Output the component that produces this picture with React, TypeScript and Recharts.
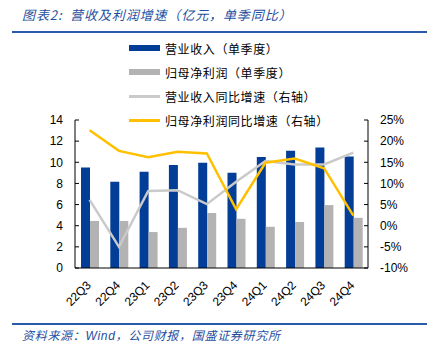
import React from 'react';
import { ComposedChart, Bar, Line, XAxis, YAxis } from 'recharts';

const categories = ['22Q3', '22Q4', '23Q1', '23Q2', '23Q3', '23Q4', '24Q1', '24Q2', '24Q3', '24Q4'];
const revenue = [9.5, 8.15, 9.1, 9.75, 9.95, 9.0, 10.5, 11.1, 11.4, 10.55];
const netProfit = [4.45, 4.45, 3.4, 3.8, 5.2, 4.65, 3.9, 4.35, 5.95, 4.75];
const revenueYoY = [6.1, -5.0, 8.2, 8.4, 5.1, 10.4, 15.3, 14.5, 14.5, 17.3];
const profitYoY = [22.6, 17.7, 16.2, 17.5, 17.1, 3.9, 14.9, 15.9, 13.6, 2.4];
const leftTicks = [0, 2, 4, 6, 8, 10, 12, 14];
const rightTicks = [-10, -5, 0, 5, 10, 15, 20, 25];

const seriesNames = ['营业收入（单季度）', '归母净利润（单季度）', '营业收入同比增速（右轴）', '归母净利润同比增速（右轴）'];
const colors = ['#023E97', '#B3B3B3', '#CACACA', '#FFC000'];

const data = categories.map((c, i) => ({
  name: c,
  revenue: revenue[i],
  netProfit: netProfit[i],
  revenueYoY: revenueYoY[i],
  profitYoY: profitYoY[i],
}));

const FONT = '"Liberation Sans", Arial, sans-serif';
const CJK = '"Noto Sans CJK SC", sans-serif';
const BLUE_TEXT = '#1F4FA0';

const XTick = (props: any) => {
  const { x, y, payload } = props;
  const ax = x + 2;
  const ay = y + 10;
  return (
    <text
      x={ax}
      y={ay}
      transform={`rotate(-45, ${ax}, ${ay})`}
      textAnchor="end"
      fontSize={12}
      fontFamily={FONT}
      fill="#000"
    >
      {payload.value}
    </text>
  );
};

const LegendBox = () => (
  <div style={{ position: 'absolute', left: 129, top: 36, fontFamily: CJK, fontSize: 12, color: '#000' }}>
    {seriesNames.map((n, i) => (
      <div key={n} style={{ display: 'flex', alignItems: 'center', height: 24, whiteSpace: 'nowrap' }}>
        <div
          style={{
            width: 31,
            height: i < 2 ? 6 : 3,
            background: colors[i],
            marginRight: 5,
          }}
        />
        <span style={{ letterSpacing: 0.6 }}>{n}</span>
      </div>
    ))}
  </div>
);

export default function App() {
  return (
    <div style={{ position: 'absolute', left: 0, top: 0, width: 434, height: 352, background: '#fff' }}>
      <div
        style={{
          position: 'absolute',
          left: 22,
          top: 5,
          fontFamily: CJK,
          fontStyle: 'italic',
          fontSize: 13,
          letterSpacing: 0.9,
          color: BLUE_TEXT,
          whiteSpace: 'nowrap',
        }}
      >
        图表2:&nbsp;&nbsp;营收及利润增速（亿元，单季同比）
      </div>
      <div style={{ position: 'absolute', left: 12, top: 31, width: 415, height: 2, background: '#2A5AAA' }} />
      <div style={{ position: 'absolute', left: 0, top: 0 }}>
        <ComposedChart
          width={434}
          height={352}
          data={data}
          margin={{ top: 120, right: 0, bottom: 44, left: 0 }}
          barGap={0}
          style={{ fontFamily: FONT }}
        >
          <XAxis
            dataKey="name"
            height={40}
            tickLine={false}
            axisLine={{ stroke: '#000' }}
            tick={<XTick />}
            interval={0}
          />
          <YAxis
            yAxisId="left"
            orientation="left"
            width={75}
            domain={[0, 14]}
            ticks={leftTicks}
            tickSize={-4}
            tickMargin={16}
            axisLine={{ stroke: '#000' }}
            tickLine={{ stroke: '#000' }}
            tick={{ fontSize: 12, fill: '#000', fontFamily: FONT }}
            interval={0}
          />
          <YAxis
            yAxisId="right"
            orientation="right"
            width={66}
            domain={[-10, 25]}
            ticks={rightTicks}
            tickFormatter={(v: number) => `${v}%`}
            tickSize={-4}
            tickMargin={16}
            axisLine={{ stroke: '#000' }}
            tickLine={{ stroke: '#000' }}
            tick={{ fontSize: 12, fill: '#000', fontFamily: FONT }}
            interval={0}
          />
          <Bar yAxisId="left" dataKey="revenue" name={seriesNames[0]} fill={colors[0]} barSize={9} isAnimationActive={false} />
          <Bar yAxisId="left" dataKey="netProfit" name={seriesNames[1]} fill={colors[1]} barSize={9} isAnimationActive={false} />
          <Line
            yAxisId="right"
            dataKey="revenueYoY"
            name={seriesNames[2]}
            stroke={colors[2]}
            strokeWidth={2.5}
            dot={false}
            type="linear"
            isAnimationActive={false}
          />
          <Line
            yAxisId="right"
            dataKey="profitYoY"
            name={seriesNames[3]}
            stroke={colors[3]}
            strokeWidth={2.5}
            dot={false}
            type="linear"
            isAnimationActive={false}
          />
        </ComposedChart>
      </div>
      <LegendBox />
      <div style={{ position: 'absolute', left: 12, top: 323, width: 415, height: 2, background: '#2A5AAA' }} />
      <div
        style={{
          position: 'absolute',
          left: 22,
          top: 326,
          fontFamily: CJK,
          fontStyle: 'italic',
          fontSize: 12,
          letterSpacing: 0.7,
          color: BLUE_TEXT,
          whiteSpace: 'nowrap',
        }}
      >
        资料来源：<span style={{ fontFamily: FONT }}>Wind</span>，公司财报，国盛证券研究所
      </div>
    </div>
  );
}
